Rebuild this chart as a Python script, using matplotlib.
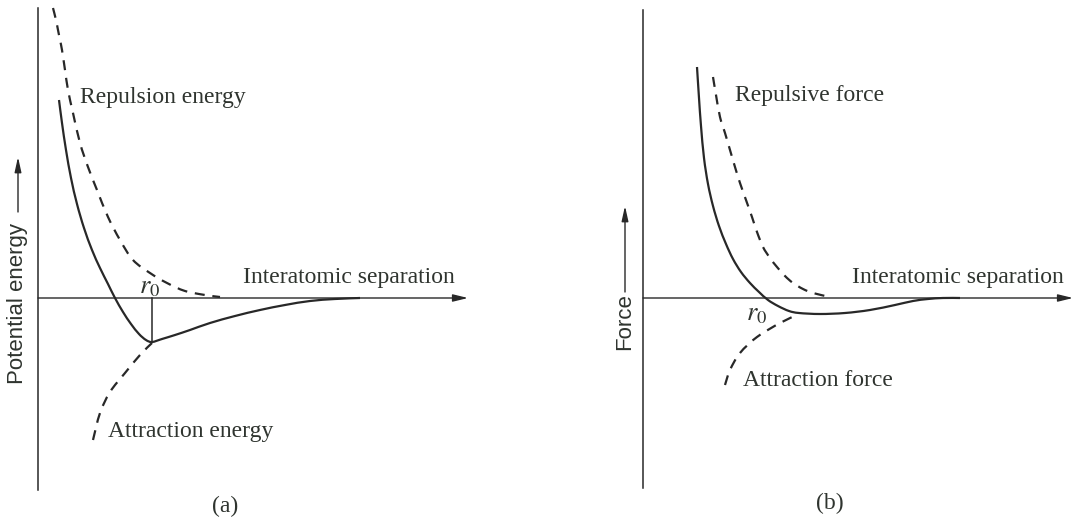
import matplotlib.pyplot as plt
from matplotlib.path import Path
from matplotlib.patches import PathPatch

# ---------------- curve data (separation, value) ----------------

# (a) potential energy panel
energy_r = [21, 24, 28, 33, 39, 46, 54, 62, 70, 77, 85, 93, 101, 108,
            114, 124, 137, 152, 172, 197, 222, 247, 272, 297, 322]
energy_u = [198, 175, 148, 120, 94, 70, 48, 30, 14, 0, -14, -26, -36, -42,
            -44, -41, -37, -32, -25, -18, -12, -7, -3, -1, 0]

repulsion_r = [15, 18, 20, 22, 24, 27, 30, 35, 42, 50, 59, 70, 82, 95, 112, 129, 147, 167, 182]
repulsion_u = [290, 278, 268, 258, 248, 228, 208, 185, 155, 131, 108, 81, 58, 38, 25, 15, 7, 3, 1]

attraction_r = [55, 62, 72, 87, 102, 114]
attraction_u = [-142, -115, -94, -75, -57, -45]

r0_a = 114
u_min = -44

# (b) force panel
force_r = [54, 56, 58, 61, 65, 70, 76, 83, 90, 98, 107, 116, 125, 135, 146, 156,
           177, 202, 227, 252, 270, 285, 300, 317]
force_f = [231, 200, 172, 140, 114, 92, 72, 54, 39, 26, 15, 6, -2, -8, -13, -15,
           -16, -15, -12, -7, -3, -1, 0, 0]

rep_force_r = [70, 73, 77, 82, 87, 92, 97, 103, 109, 114, 120, 127, 134, 142, 150, 160, 170, 187]
rep_force_f = [221, 203, 181, 165, 148, 131, 115, 98, 81, 66, 51, 40, 31, 22, 15, 9, 5, 1]

att_force_r = [82, 87, 97, 114, 137, 154]
att_force_f = [-87, -72, -55, -39, -25, -17]

# ---------------- styling ----------------

plt.rcParams["mathtext.fontset"] = "stix"
INK = "#282828"
TXT = "#2f342f"
SERIF = dict(family="Liberation Serif", fontsize=17, color=TXT)
SANS = dict(family="Liberation Sans", fontsize=16, color=TXT)
DASH = (0, (4.5, 3.5))

fig = plt.figure(figsize=(10.79, 5.21), dpi=100)
ax_a = fig.add_axes([0, 0, 540 / 1079, 1])
ax_b = fig.add_axes([540 / 1079, 0, 539 / 1079, 1])
ax_a.set_xlim(-38, 502)
ax_b.set_xlim(-103, 436)
for ax in (ax_a, ax_b):
    ax.set_ylim(-223, 298)
    ax.axis("off")


def curve(ax, xs, ys, **kw):
    # smooth cubic path through the points (Catmull-Rom style handles)
    pts = list(zip(xs, ys))
    n = len(pts)
    verts, codes = [pts[0]], [Path.MOVETO]
    for i in range(n - 1):
        p0 = pts[max(i - 1, 0)]
        p1, p2 = pts[i], pts[i + 1]
        p3 = pts[min(i + 2, n - 1)]
        c1 = (p1[0] + (p2[0] - p0[0]) / 6, p1[1] + (p2[1] - p0[1]) / 6)
        c2 = (p2[0] - (p3[0] - p1[0]) / 6, p2[1] - (p3[1] - p1[1]) / 6)
        verts += [c1, c2, p2]
        codes += [Path.CURVE4] * 3
    ax.add_patch(PathPatch(Path(verts, codes), fill=False, edgecolor=INK,
                           capstyle="butt", **kw))


def draw_axes(ax, y_bot, y_top, x_tip):
    ax.plot([0, 0], [y_bot, y_top], color=INK, lw=1.1)
    ax.annotate("", xy=(x_tip, 0), xytext=(0, 0),
                arrowprops=dict(arrowstyle="-|>,head_length=0.9,head_width=0.22",
                                color=INK, lw=1.0, shrinkA=0, shrinkB=0))


def ylabel_arrow(ax, x, y0, y1):
    ax.annotate("", xy=(x, y1), xytext=(x, y0),
                arrowprops=dict(arrowstyle="-|>,head_length=0.9,head_width=0.2",
                                color=INK, lw=1.0, shrinkA=0, shrinkB=0))


# ---------------- (a) potential energy ----------------

draw_axes(ax_a, -192, 290, 430)
curve(ax_a, energy_r, energy_u, lw=1.6)
curve(ax_a, repulsion_r, repulsion_u, lw=1.6, linestyle=DASH)
curve(ax_a, attraction_r, attraction_u, lw=1.6, linestyle=DASH)
ax_a.plot([r0_a, r0_a], [0, u_min], color=INK, lw=1.1)

ax_a.text(42, 201, "Repulsion energy", ha="left", va="center", **SERIF)
ax_a.text(205, 21, "Interatomic separation", ha="left", va="center", **SERIF)
ax_a.text(112, 12, r"$r_0$", ha="center", va="center", fontsize=19, color=TXT)
ax_a.text(70, -134, "Attraction energy", ha="left", va="center", **SERIF)
ax_a.text(187, -208, "(a)", ha="center", va="center", **SERIF)
ax_a.text(-20, -6, "Potential energy", rotation=90, ha="center", va="center", **SANS)
ylabel_arrow(ax_a, -20, 86, 141)

# ---------------- (b) force ----------------

draw_axes(ax_b, -190, 288, 430)
curve(ax_b, force_r, force_f, lw=1.6)
curve(ax_b, rep_force_r, rep_force_f, lw=1.6, linestyle=DASH)
curve(ax_b, att_force_r, att_force_f, lw=1.6, linestyle=DASH)

ax_b.text(92, 203, "Repulsive force", ha="left", va="center", **SERIF)
ax_b.text(209, 21, "Interatomic separation", ha="left", va="center", **SERIF)
ax_b.text(114, -15, r"$r_0$", ha="center", va="center", fontsize=19, color=TXT)
ax_b.text(100, -83, "Attraction force", ha="left", va="center", **SERIF)
ax_b.text(187, -205, "(b)", ha="center", va="center", **SERIF)
ax_b.text(-18, -24, "Force", rotation=90, ha="center", va="center", **SANS)
ylabel_arrow(ax_b, -18, 6, 92)

fig.savefig("out.png", dpi=100, facecolor="white")
